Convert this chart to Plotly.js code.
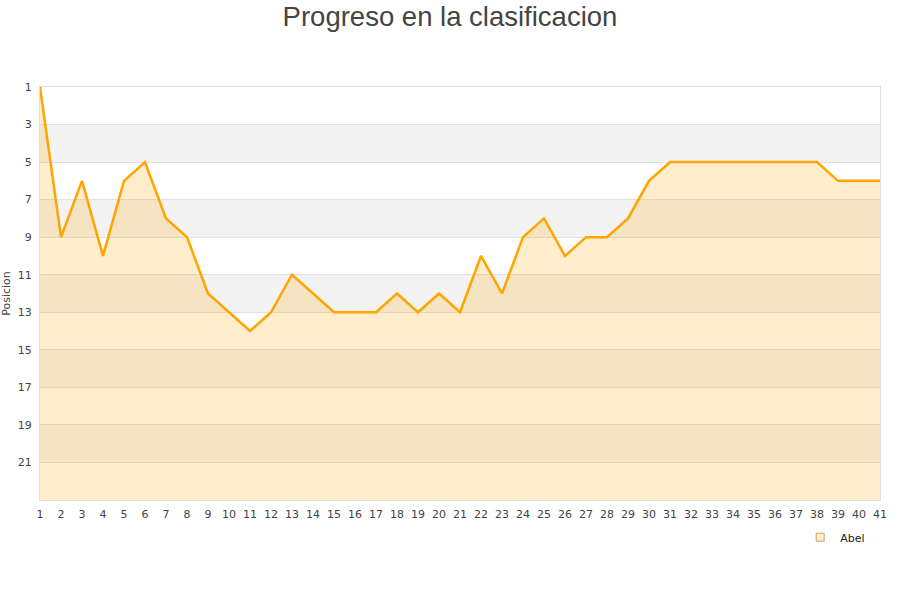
<!DOCTYPE html>
<html>
<head>
<meta charset="utf-8">
<script src="https://cdn.plot.ly/plotly-3.0.1.min.js"></script>
<style>html,body{margin:0;padding:0;background:#fff;}#chart{width:900px;height:600px;}</style>
</head>
<body>
<div id="chart"></div>
<script>
const jornadas = [1,2,3,4,5,6,7,8,9,10,11,12,13,14,15,16,17,18,19,20,21,22,23,24,25,26,27,28,29,30,31,32,33,34,35,36,37,38,39,40,41];
const posicionAbel = [1,9,6,10,6,5,8,9,12,13,14,13,11,12,13,13,13,12,13,12,13,10,12,9,8,10,9,9,8,6,5,5,5,5,5,5,5,5,6,6,6];
const yTicks = [1,3,5,7,9,11,13,15,17,19,21];
const bandStarts = [3,7,11,15,19];
const fondo = jornadas.map(() => 23);

const shapes = bandStarts.map(b => ({
  type: 'rect', xref: 'paper', yref: 'y', x0: 0, x1: 1, y0: b, y1: b + 2,
  fillcolor: '#f3f3f3', line: {width: 0}, layer: 'below'
}));

const traces = [
  {x: jornadas, y: fondo, mode: 'lines', line: {width: 0}, showlegend: false, hoverinfo: 'skip'},
  {x: jornadas, y: posicionAbel, name: 'Abel', mode: 'lines', fill: 'tonexty', showlegend: false,
   fillcolor: 'rgba(255,165,0,0.2)', line: {color: '#ffa500', width: 2.5}},
  {x: [null], y: [null], name: 'Abel', mode: 'markers', showlegend: true,
   marker: {symbol: 'square', size: 8, color: '#ffedcc', line: {color: '#c9a36b', width: 1}}}
];

const layout = {
  width: 900, height: 600,
  margin: {l: 40, r: 20, t: 87, b: 100},
  paper_bgcolor: '#fff', plot_bgcolor: '#fff',
  title: {text: 'Progreso en la clasificacion', x: 0.5, xanchor: 'center', y: 0.973, yanchor: 'middle',
          font: {family: 'Liberation Sans, Arial, sans-serif', size: 27.5, color: '#444'}},
  font: {family: 'DejaVu Sans, sans-serif', size: 11, color: '#444'},
  xaxis: {range: [1, 41], tickmode: 'array', tickvals: jornadas, ticktext: jornadas.map(String),
          showgrid: false, zeroline: false, showline: true, linecolor: '#ddd', mirror: true,
          ticks: 'outside', ticklen: 4, tickcolor: 'rgba(0,0,0,0)', tickfont: {size: 11, color: '#444'}},
  yaxis: {range: [23, 1], tickmode: 'array', tickvals: yTicks, ticktext: yTicks.map(String),
          showgrid: true, gridcolor: '#e0e0e0', zeroline: false, showline: true, linecolor: '#ddd', mirror: true,
          ticks: 'outside', ticklen: 5, tickcolor: 'rgba(0,0,0,0)', tickfont: {size: 11, color: '#444'},
          title: {text: 'Posicion', standoff: 4, font: {size: 11, color: '#444'}}},
  shapes: shapes,
  showlegend: true,
  legend: {orientation: 'h', x: 0.905, xanchor: 'left', y: -0.055, yanchor: 'top',
           font: {size: 11, color: '#222'}, bgcolor: 'rgba(0,0,0,0)'}
};

Plotly.newPlot('chart', traces, layout, {displayModeBar: false, staticPlot: true});
</script>
</body>
</html>
